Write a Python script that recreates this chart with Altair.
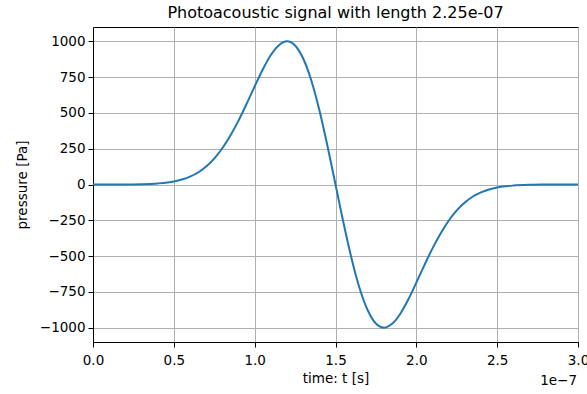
import altair as alt
import pandas as pd

# time in units of 1e-7 s
t_vals = [0.0, 0.1, 0.2, 0.3, 0.4, 0.5, 0.55, 0.6, 0.65, 0.7, 0.75, 0.8, 0.85, 0.9, 0.95,
          1.0, 1.05, 1.1, 1.15, 1.2, 1.25, 1.3, 1.35, 1.4, 1.45, 1.5,
          1.55, 1.6, 1.65, 1.7, 1.75, 1.8, 1.85, 1.9, 1.95, 2.0, 2.05, 2.1, 2.15,
          2.2, 2.25, 2.3, 2.35, 2.4, 2.45, 2.5, 2.6, 2.7, 2.8, 2.9, 3.0]
p_vals = [0, 0, 0.6, 2.2, 7.3, 21, 35, 55, 84, 126, 181, 253, 342, 446, 563,
          685, 803, 904, 973, 1000, 971, 880, 728, 520, 271, 0,
          -271, -520, -728, -880, -971, -1000, -973, -904, -803, -685, -563, -446, -342,
          -253, -181, -126, -84, -55, -35, -21, -7.3, -2.2, -0.6, 0, 0]
x_ticks = [0.0, 0.5, 1.0, 1.5, 2.0, 2.5, 3.0]
y_ticks = [-1000, -750, -500, -250, 0, 250, 500, 750, 1000]

df = pd.DataFrame({"t": t_vals, "p": p_vals})

W, H = 485, 315
FONT = "DejaVu Sans"

line = alt.Chart(df).mark_line(color="#1f77b4", strokeWidth=2, interpolate="monotone", clip=True).encode(
    x=alt.X("t:Q", scale=alt.Scale(domain=[0, 3], nice=False, zero=False),
            axis=alt.Axis(values=x_ticks, format=".1f", title="time: t [s]",
                          labelFlush=False, labelPadding=6, titlePadding=5)),
    y=alt.Y("p:Q", scale=alt.Scale(domain=[-1100, 1100], nice=False),
            axis=alt.Axis(values=y_ticks, format="d", title="pressure [Pa]",
                          titlePadding=10)),
)

offset = alt.Chart(pd.DataFrame({"lbl": ["1e\u22127"]})).mark_text(
    align="right", baseline="middle", font=FONT, fontSize=13.5, color="black"
).encode(
    x=alt.value(W - 1), y=alt.value(H + 39), text="lbl:N"
)

chart = (line + offset).properties(
    width=W, height=H,
    background="white",
    title=alt.TitleParams("Photoacoustic signal with length 2.25e-07", font=FONT,
                          fontSize=16, fontWeight="normal", color="black", offset=6),
    autosize=alt.AutoSizeParams(type="none"),
    padding={"left": 93, "top": 27, "right": 9, "bottom": 52},
).configure_view(
    stroke="black", strokeWidth=1
).configure_axis(
    labelFont=FONT, labelFontSize=13.5, labelColor="black",
    titleFont=FONT, titleFontSize=13.5, titleFontWeight="normal", titleColor="black",
    grid=True, gridColor="#b0b0b0", gridWidth=1,
    domainColor="black", domainWidth=1,
    tickColor="black", tickSize=5, tickWidth=1, labelPadding=3,
)

chart.save("out.html", embed_options={"renderer": "svg", "actions": False})
